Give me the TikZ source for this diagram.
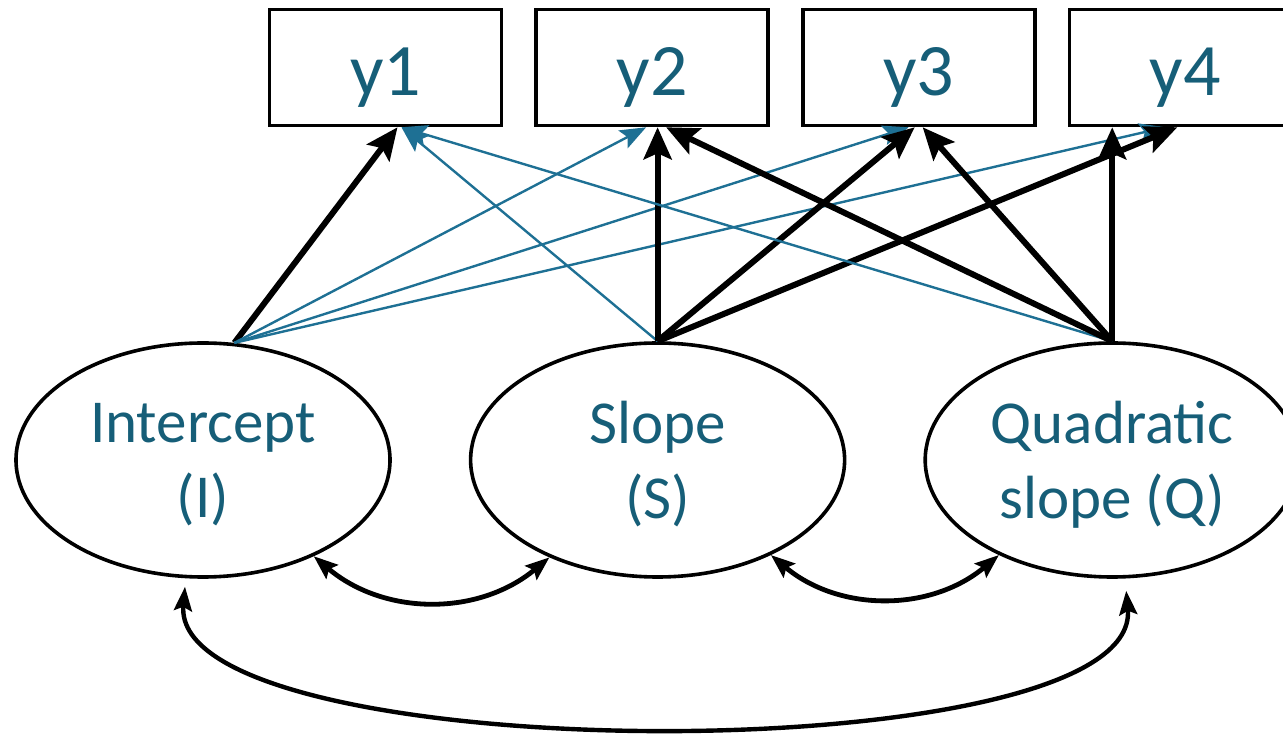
\documentclass[tikz,border=0pt]{standalone}
\usepackage{fontspec}
\setmainfont{Carlito}
\usepackage{tikz}
\usetikzlibrary{positioning,arrows.meta,calc,shapes.geometric}
\usepackage{xcolor}
\definecolor{labelteal}{RGB}{22,94,120}
\definecolor{loadblue}{RGB}{30,112,148}

\begin{document}
\begin{tikzpicture}[
  x=0.5pt, y=0.5pt,
  indicator/.style={draw, line width=1.8pt, minimum width=116pt, minimum height=58pt, text height=28pt, text depth=0pt, text=labelteal, font=\fontsize{37}{42}\selectfont},
  growth/.style={draw, ellipse, line width=1.8pt, minimum width=187pt, minimum height=117pt, align=center, text depth=0pt, text=labelteal, font=\fontsize{30.5}{37.5}\selectfont},
  fixed/.style={->, >={Stealth[length=16pt, width=14pt, inset=3pt]}, line width=3pt},
  free/.style={->, >={Stealth[length=13pt, width=10pt, inset=2.5pt]}, line width=1.2pt, loadblue},
  covar/.style={<->, >={Stealth[length=12pt, width=9pt, inset=2pt]}, line width=2.4pt},
]
  \useasboundingbox (0,0) rectangle (1283,733);
  \node[indicator] (y1) at (385.5,665.5) {y1};
  \node[indicator, right=15.5pt of y1] (y2) {y2};
  \node[indicator, right=15.5pt of y2] (y3) {y3};
  \node[indicator, right=15.5pt of y3] (y4) {y4};
  \node[growth] (I) at (203,273) {Intercept\\(I)};
  \node[growth, right=38.5pt of I] (S) {Slope\\(S)};
  \node[growth, right=38.5pt of S] (Q) {Quadratic\\slope (Q)};
  % loadings
  \draw[fixed] (I.75) -- ([xshift=6pt]y1.south);
  \draw[free] (I.75) -- ([xshift=-3pt]y2.south);
  \draw[free] (I.75) -- ([xshift=-5pt]y3.south);
  \draw[free] (I.75) -- ([xshift=-10pt]y4.south);
  \draw[free] (S.north) -- ([xshift=8pt]y1.south);
  \draw[fixed] (S.north) -- (S.north |- y2.south);
  \draw[fixed] (S.north) -- ([xshift=-2pt]y3.south);
  \draw[fixed] (S.north) -- ([xshift=-4pt]y4.south);
  \draw[free] (Q.north) -- ([xshift=8pt]y1.south);
  \draw[fixed] (Q.north) -- ([xshift=7pt]y2.south);
  \draw[fixed] (Q.north) -- ([xshift=2pt]y3.south);
  \draw[fixed] (Q.north) -- (Q.north |- y4.south);
  % covariances
  \draw[covar] (I.-41) to[bend right=40] (S.-138);
  \draw[covar] (S.-40) to[bend right=40] (Q.-140);
  \draw[covar, line width=2.2pt] ([xshift=-9pt, yshift=-4pt]I.south)
      to[out=-95, in=-85, looseness=0.5] ([xshift=7pt, yshift=-6pt]Q.south);
\end{tikzpicture}
\end{document}
